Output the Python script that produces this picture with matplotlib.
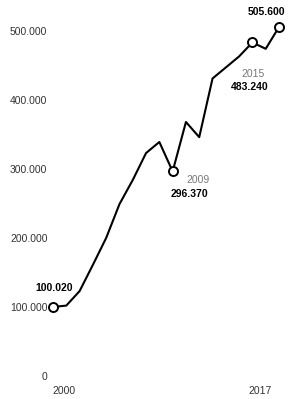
import matplotlib
matplotlib.use("Agg")
import matplotlib.pyplot as plt

plt.rcParams['font.family'] = ['Liberation Sans Narrow', 'Liberation Sans', 'DejaVu Sans']

years = list(range(2000, 2018))
values = [100.02, 102, 123, 161, 200, 249, 284, 323, 339, 296.37,
          368, 346, 431, 447, 463, 483.24, 474, 505.6]
ytick_vals = [0, 100, 200, 300, 400, 500]
ytick_labels = ["0", "100.000", "200.000", "300.000", "400.000", "500.000"]
xtick_years = [2000, 2017]
marked_years = [2000, 2009, 2015, 2017]
value_labels = {2000: "100.020", 2009: "296.370", 2015: "483.240", 2017: "505.600"}

W, H = 296, 399
fig = plt.figure(figsize=(W / 100, H / 100), dpi=100)
ax = fig.add_axes([53 / W, 23 / H, 226 / W, 349 / H])
ax.set_xlim(2000, 2017)
ax.set_ylim(0, 505.6)
for s in ax.spines.values():
    s.set_visible(False)

ax.plot(years, values, color='black', lw=1.5, clip_on=False, zorder=2,
        solid_joinstyle='round', solid_capstyle='round')
mx = [y for y in marked_years]
my = [values[years.index(y)] for y in marked_years]
ax.plot(mx, my, 'o', ms=6.5, mfc='white', mec='black', mew=1.4, clip_on=False, zorder=3)

ax.set_yticks(ytick_vals)
ax.set_yticklabels(ytick_labels)
ax.tick_params(axis='y', length=0, pad=4, labelsize=7.5, labelcolor='#333333')
ax.set_xticks([])

# x labels with offsets
xoffs = {2000: 11, 2017: -19}
for yr in xtick_years:
    ax.annotate(str(yr), xy=(yr, 0), xytext=(xoffs[yr], -15), textcoords='offset pixels',
                ha='center', va='center', fontsize=7.5, color='#333333', annotation_clip=False)

# value annotations
offs = {2000: (1, 19), 2009: (17, -23), 2015: (-3, -45), 2017: (-13, 15)}
for yr, lab in value_labels.items():
    v = values[years.index(yr)]
    dx, dy = offs[yr]
    ax.annotate(lab, xy=(yr, v), xytext=(dx, dy), textcoords='offset pixels',
                ha='center', va='center', fontsize=7.5, fontweight='bold',
                color='black', annotation_clip=False)

year_offs = {2009: (25, -9), 2015: (1, -32)}
for yr, (dx, dy) in year_offs.items():
    v = values[years.index(yr)]
    ax.annotate(str(yr), xy=(yr, v), xytext=(dx, dy), textcoords='offset pixels',
                ha='center', va='center', fontsize=7.5, color='#777777',
                annotation_clip=False)

fig.savefig("out.png", dpi=100)
